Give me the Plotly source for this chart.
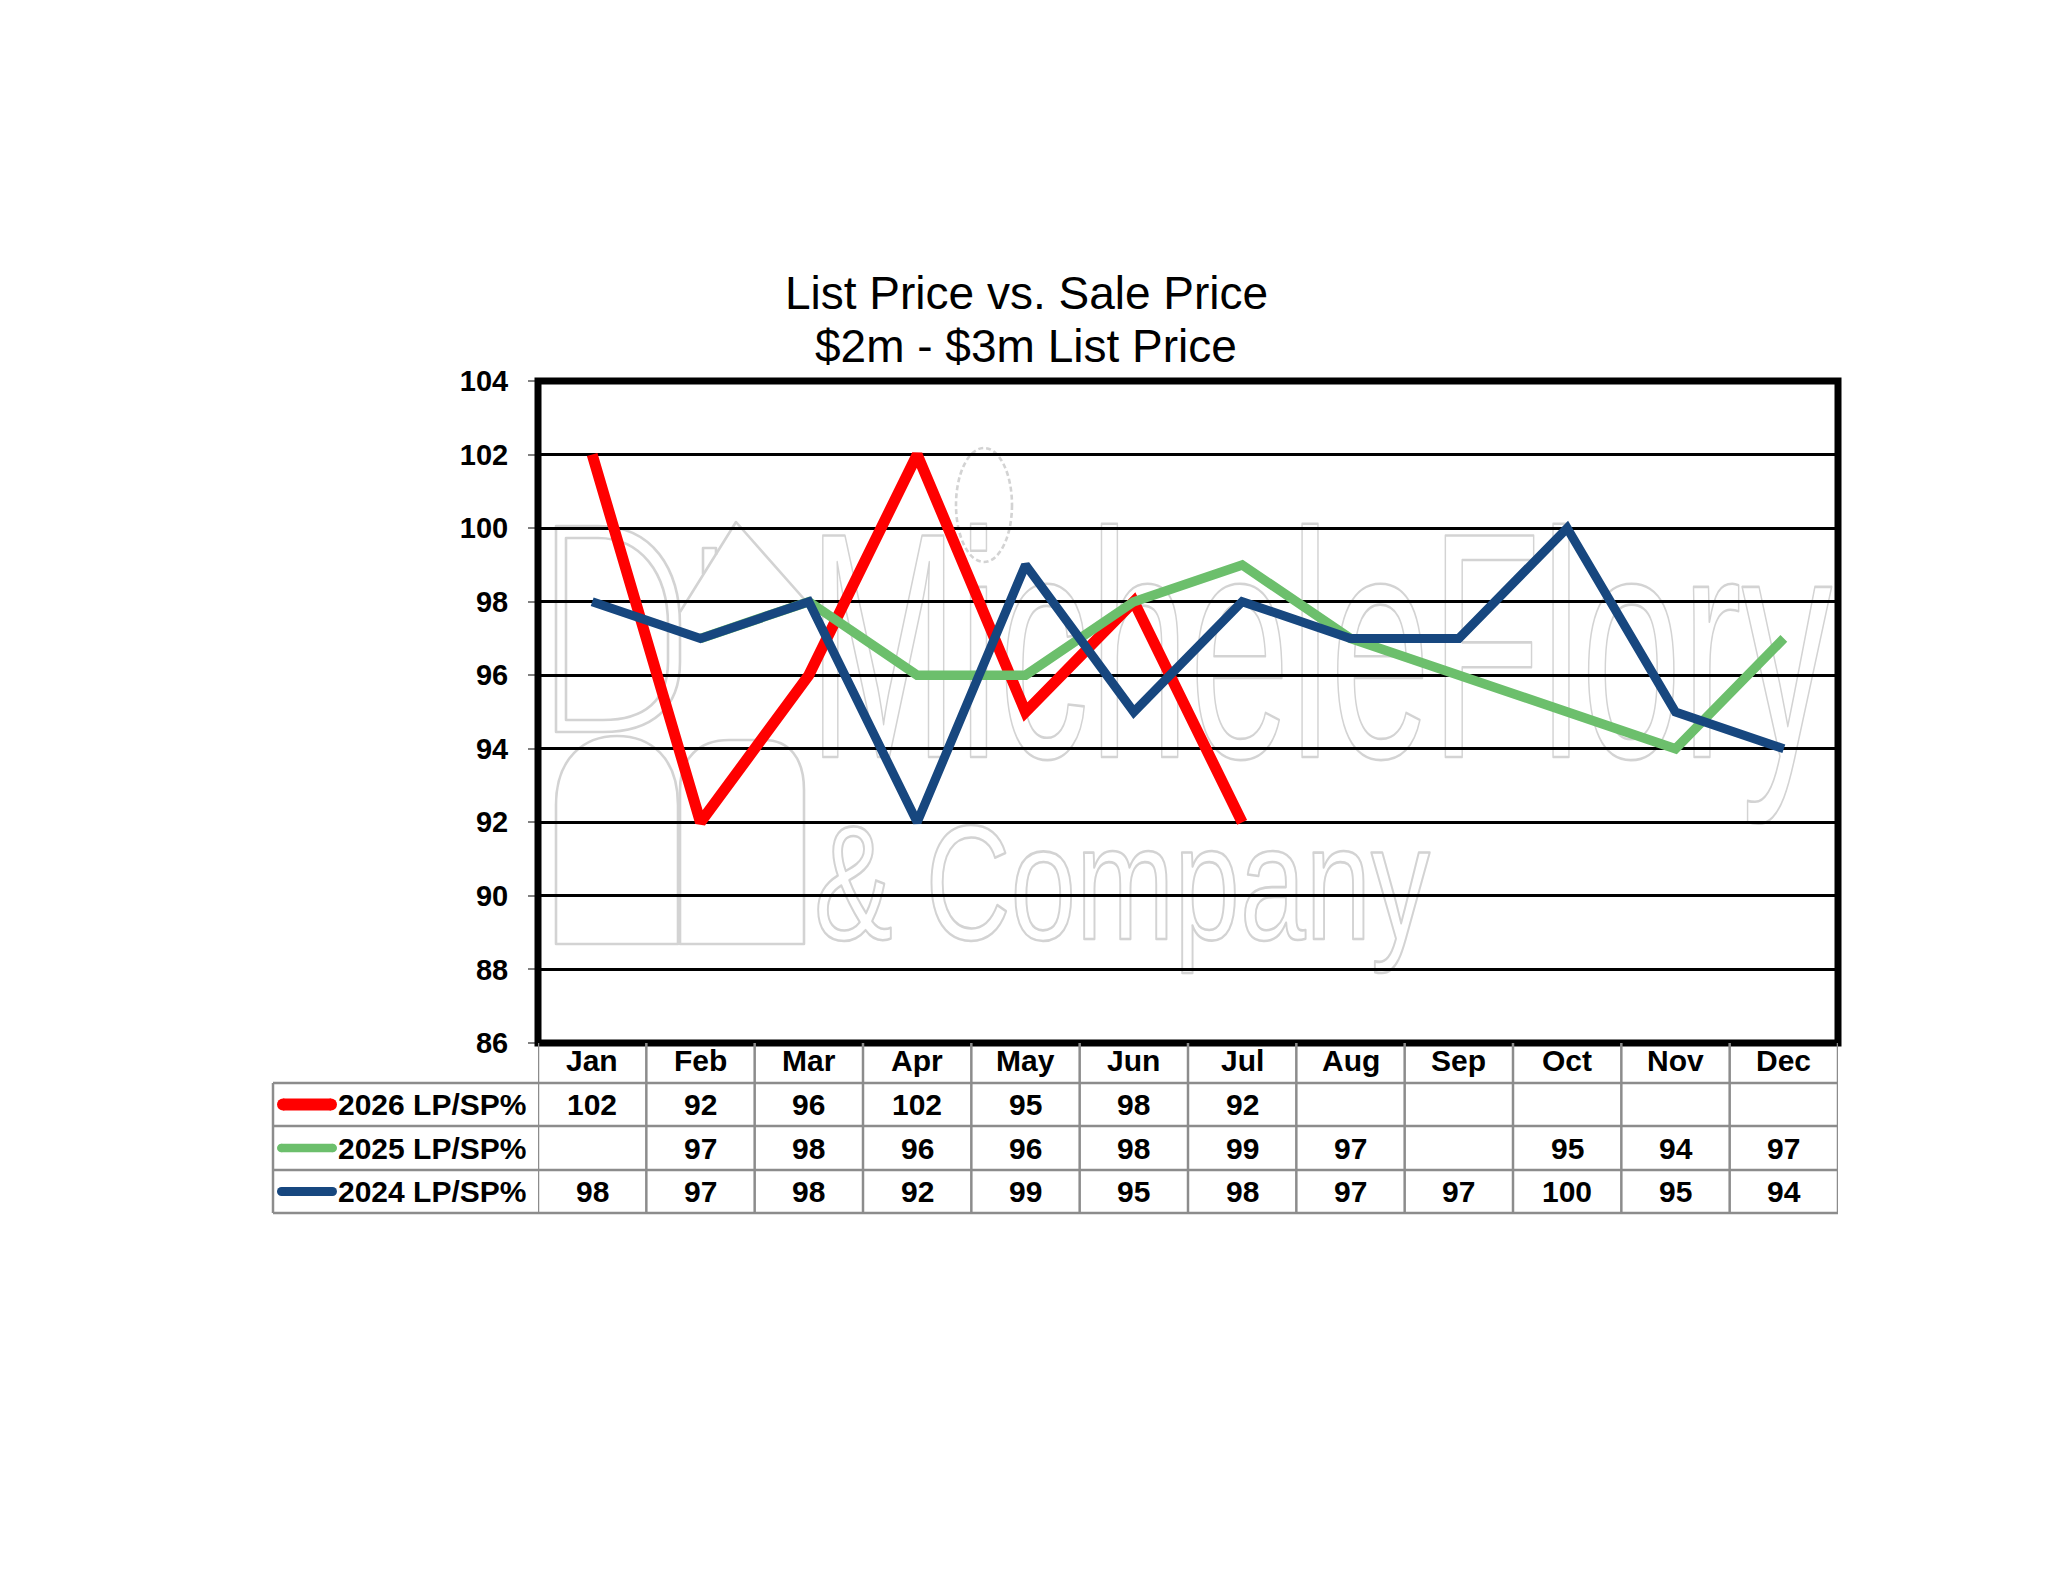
import base64
import plotly.graph_objects as go

months = ["Jan", "Feb", "Mar", "Apr", "May", "Jun",
          "Jul", "Aug", "Sep", "Oct", "Nov", "Dec"]
lp_sp_2026 = [102, 92, 96, 102, 95, 98, 92, None, None, None, None, None]
lp_sp_2025 = [None, 97, 98, 96, 96, 98, 99, 97, None, 95, 94, 97]
lp_sp_2024 = [98, 97, 98, 92, 99, 95, 98, 97, 97, 100, 95, 94]

series_names = ["2026 LP/SP%", "2025 LP/SP%", "2024 LP/SP%"]
series_values = [lp_sp_2026, lp_sp_2025, lp_sp_2024]
series_colors = ["#ff0000", "#6cbf6c", "#17477f"]
line_widths = [11, 9.5, 9]
key_widths = [12, 8.5, 9]

title_lines = ["List Price vs. Sale Price", "$2m - $3m List Price"]

# --- page geometry (pixels on the page) ---
W, H = 2048, 1583
BODY = 8  # default body margin of the html page
PLOT_L, PLOT_R, PLOT_T, PLOT_B = 538, 1838, 381, 1043
PW, PH = PLOT_R - PLOT_L, PLOT_B - PLOT_T
TABLE_L = 273
HEADER_Y = 1060
ROW_LINES = [1083, 1126, 1170, 1213]
GRID_GREY = "#8c8c8c"
FONT = "Arial, Liberation Sans, sans-serif"


def px_x(x):
    return (x - PLOT_L) / PW


def px_y(y):
    return (PLOT_B - y) / PH


# --- watermark logo, drawn as outlined svg behind the grid ---
WM_FONT = 'font-family="Liberation Sans, Arial, sans-serif"'
wm_svg = f"""<svg xmlns="http://www.w3.org/2000/svg" width="{PW}" height="{PH}" viewBox="{PLOT_L} {PLOT_T} {PW} {PH}">
<g fill="none" stroke="#d3d3d3" stroke-width="2.6" stroke-linejoin="round">
<text x="808" y="757" {WM_FONT} font-size="322" textLength="1024" lengthAdjust="spacingAndGlyphs">MicheleFlory</text>
<text x="814" y="939" {WM_FONT} font-size="163" textLength="616" lengthAdjust="spacingAndGlyphs">&amp; Company</text>
<path d="M556,526 L598,526 C652,526 680,568 680,625 L680,662 C680,708 652,732 603,732 L556,732 Z"/>
<path d="M566,538 L598,538 C640,538 668,572 668,625 L668,662 C668,700 645,720 603,720 L566,720 Z"/>
<path d="M680,612 L736,522 L812,608"/>
<path d="M703,574 L703,548 L716,548 L716,555"/>
<path d="M556,944 L556,805 C556,758 584,736 617,736 C651,736 678,758 678,805 L678,944 Z"/>
<path d="M680,944 L680,790 C680,758 699,740 729,740 L764,740 C789,740 804,758 804,790 L804,944 Z"/>
<ellipse cx="984" cy="505" rx="28" ry="57" stroke-dasharray="5 3"/>
</g></svg>"""
wm_uri = "data:image/svg+xml;base64," + base64.b64encode(wm_svg.encode()).decode()

fig = go.Figure()

for name, vals, color, lw in zip(series_names, series_values, series_colors, line_widths):
    fig.add_trace(go.Scatter(
        x=months, y=vals, name=name, mode="lines",
        line=dict(color=color, width=lw), connectgaps=True,
    ))

shapes = []
annotations = []
bold30 = dict(family=FONT, size=30, color="black", weight="bold")

# plot area frame
shapes.append(dict(type="rect", xref="paper", yref="paper", x0=0, x1=1, y0=0, y1=1,
                   line=dict(color="black", width=7), layer="above"))

# data table grid
for y in ROW_LINES:
    shapes.append(dict(type="line", xref="paper", yref="paper",
                       x0=px_x(TABLE_L), x1=1, y0=px_y(y), y1=px_y(y),
                       line=dict(color=GRID_GREY, width=2.5)))
shapes.append(dict(type="line", xref="paper", yref="paper",
                   x0=px_x(TABLE_L), x1=px_x(TABLE_L), y0=px_y(ROW_LINES[0]), y1=px_y(ROW_LINES[-1]),
                   line=dict(color=GRID_GREY, width=2.5)))
for i in range(len(months) + 1):
    shapes.append(dict(type="line", xref="x", yref="paper",
                       x0=i - 0.5, x1=i - 0.5, y0=0, y1=px_y(ROW_LINES[-1]),
                       line=dict(color=GRID_GREY, width=2.5)))

# header row: month names
for m in months:
    annotations.append(dict(xref="x", yref="paper", x=m, y=px_y(HEADER_Y),
                            xanchor="center", yanchor="middle", text=m, showarrow=False,
                            font=bold30))

# table rows: legend key, series label, values
for r, (name, vals, color, kw) in enumerate(zip(series_names, series_values, series_colors, key_widths)):
    yc = px_y((ROW_LINES[r] + ROW_LINES[r + 1]) / 2)
    k0, k1 = 277 + kw / 2, 337 - kw / 2
    shapes.append(dict(type="line", xref="paper", yref="paper",
                       x0=px_x(k0), x1=px_x(k1), y0=yc, y1=yc,
                       line=dict(color=color, width=kw)))
    for kx in (k0, k1):
        shapes.append(dict(type="circle", xref="paper", yref="paper",
                           xsizemode="pixel", ysizemode="pixel",
                           xanchor=px_x(kx), yanchor=yc,
                           x0=-kw / 2, x1=kw / 2, y0=-kw / 2, y1=kw / 2,
                           fillcolor=color, line=dict(width=0)))
    annotations.append(dict(xref="paper", yref="paper", x=px_x(336), y=yc,
                            xanchor="left", yanchor="middle", text=name, showarrow=False,
                            font=bold30))
    for m, v in zip(months, vals):
        if v is None:
            continue
        annotations.append(dict(xref="x", yref="paper", x=m, y=yc,
                                xanchor="center", yanchor="middle", text=str(v), showarrow=False,
                                font=bold30))

# title, two centred lines
for line_txt, yc in zip(title_lines, (293, 346)):
    annotations.append(dict(xref="paper", yref="paper", x=px_x(1026), y=px_y(yc),
                            xanchor="center", yanchor="middle", text=line_txt, showarrow=False,
                            font=dict(family=FONT, size=46, color="black")))

fig.update_layout(
    width=W - 2 * BODY, height=H - 2 * BODY,
    margin=dict(l=PLOT_L - BODY, r=W - BODY - PLOT_R, t=PLOT_T - BODY, b=H - BODY - PLOT_B, pad=0),
    paper_bgcolor="white", plot_bgcolor="white",
    showlegend=False,
    shapes=shapes, annotations=annotations,
    images=[dict(source=wm_uri, xref="paper", yref="paper", x=0, y=1, sizex=1, sizey=1,
                 xanchor="left", yanchor="top", sizing="stretch", layer="below")],
    xaxis=dict(type="category", categoryorder="array", categoryarray=months,
               range=[-0.5, len(months) - 0.5], showgrid=False, zeroline=False,
               ticks="", showline=False, showticklabels=False),
    yaxis=dict(range=[86, 104], dtick=2, showgrid=True, gridcolor="black", gridwidth=2.5,
               zeroline=False, showline=False, ticks="outside", ticklen=9, tickwidth=2,
               tickcolor="#808080", ticklabelstandoff=14,
               tickfont=dict(family=FONT, size=29, color="black", weight="bold")),
)

fig.write_html("out.html")
